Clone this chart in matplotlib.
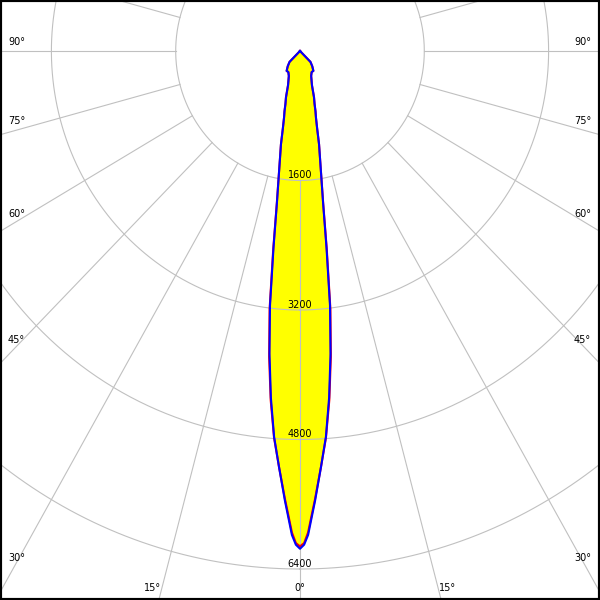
import numpy as np
import matplotlib.pyplot as plt

# gamma angles (deg) and luminous intensity (cd)
angles = [0, 0.5, 1, 2, 3, 4, 5, 6, 7, 8, 9, 10, 11, 12, 13, 14, 15, 16, 17.5, 20,
          25, 30, 35, 40, 45, 50, 60, 70, 80, 90]
c0_c180 = [6120, 6080, 5950, 5540, 5150, 4790, 4330, 3800, 3210, 2480, 1910, 1580, 1350, 1180, 980, 850, 770, 680, 600, 450,
           340, 300, 300, 245, 190, 0, 0, 0, 0, 0]
c90_c270 = [6150, 6100, 5980, 5560, 5150, 4780, 4300, 3760, 3170, 2450, 1900, 1580, 1350, 1180, 980, 850, 770, 680, 600, 450,
            340, 300, 300, 245, 190, 0, 0, 0, 0, 0]

rings = [1600, 3200, 4800, 6400]
side_labels = [90, 75, 60, 45, 30]
bottom_labels = [-15, 0, 15]

# pixel scale of the diagram (px per cd), centre sits 51 px below the top edge
sx = 124.3 / 1600
sy = 518 / 6400
x_half = 300 / sx
y_top = -51 / sy
y_bot = 549 / sy

grid_color = '#c0c0c0'


def curve(values):
    a = np.radians(np.array(angles))
    r = np.array(values, dtype=float)
    th = np.concatenate([-a[::-1], a[1:]])
    rr = np.concatenate([r[::-1], r[1:]])
    return rr * np.sin(th), rr * np.cos(th)


fig = plt.figure(figsize=(6, 6), dpi=100)
ax = fig.add_axes([0, 0, 1, 1])
ax.set_xlim(-x_half, x_half)
ax.set_ylim(y_bot, y_top)
ax.set_xticks([])
ax.set_yticks([])
for sp in ax.spines.values():
    sp.set_linewidth(3)
    sp.set_color('black')

# yellow body
bx, by = curve(c90_c270)
ax.fill(bx, by, color='#ffff00', zorder=1, lw=0)

# grid rings and spokes
t = np.linspace(0, 2 * np.pi, 720)
for R in rings:
    ax.plot(R * np.sin(t), R * np.cos(t), color=grid_color, lw=0.8, zorder=2)
for a in range(0, 360, 15):
    ar = np.radians(a)
    ax.plot([1600 * np.sin(ar), 12000 * np.sin(ar)], [1600 * np.cos(ar), 12000 * np.cos(ar)],
            color=grid_color, lw=0.8, zorder=2)

# intensity curves
rx, ry = curve(c0_c180)
ax.plot(rx, ry, color='red', lw=1.5, zorder=3)
ax.plot(bx, by, color='#0000ff', lw=1.5, zorder=4)

# ring values
for R in rings:
    ax.annotate(str(R), (0, R), xytext=(0, 1.5), textcoords='offset points',
                ha='center', va='baseline', fontsize=7, zorder=5)

# angle labels on left and right edges
x_lab = x_half - 18 / sx
for a in side_labels:
    ar = np.radians(a)
    y = x_lab * np.cos(ar) / np.sin(ar)
    dy = 9 * np.sin(ar) ** 2 * 0.72
    ax.annotate(f'{a}°', (-x_half, y), xytext=(8 * 0.72, dy), textcoords='offset points',
                ha='left', va='center', fontsize=7)
    ax.annotate(f'{a}°', (x_half, y), xytext=(-9 * 0.72, dy), textcoords='offset points',
                ha='right', va='center', fontsize=7)

# angle labels along the bottom edge
y_lab = (588 - 51) / sy
for a in bottom_labels:
    x = y_lab * np.tan(np.radians(a))
    dx = np.sign(a) * 9 * 0.72
    ax.annotate(f'{abs(a)}°', (x, y_lab), xytext=(dx, 0), textcoords='offset points',
                ha='center', va='center', fontsize=7)

plt.savefig('out.png', dpi=100)
